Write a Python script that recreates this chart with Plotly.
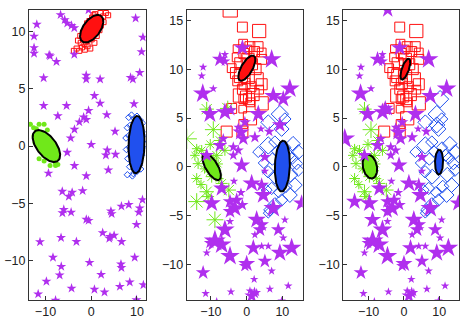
import numpy as np
import plotly.graph_objects as go

# ---------------- Panel 1 data ----------------
p1_star_x = [-6.7,-5.8,-5.25,-4.3,-3.7,-11.9,-12.5,-12.5,-12.5,-9.2,-9.0,-7.6,-3.7,-0.6,9.7,11.3,11.0,10.6,8.6,9.1,
             -10.4,-1.1,-1.1,1.94,0.7,1.94,-10.4,-5.4,-0.58,3.4,-7.3,-1.66,-1.08,-2.6,-3.67,-4.5,5.2,9.35,0.0,3.5,
             5.3,-5.25,3.2,
             -3.67,-9.35,-1.08,3.74,-6.33,-4.17,-4.9,-1.88,-6.0,-6.3,-4.4,-1.08,-0.58,4.3,4.47,6.6,8.2,11.2,10.6,10.4,
             9.9,2.5,4.1,5.0,3.95,6.63,-6.6,-3.24,-11.2,-8.36,-6.55,-0.37,6.5,6.6,9.5,2.16,-6.9,-9.8,-4.3,0.7,2.9,
             6.26,8.42,11.4,-11.6,-7.8,9.87]
p1_star_y = [11.44,11.0,10.7,10.5,10.3,10.6,9.57,8.57,8.07,7.93,7.85,7.36,7.99,11.87,11.15,9.48,8.22,6.4,5.97,5.83,
             5.94,6.17,5.83,5.83,4.39,3.73,3.52,3.52,3.09,2.72,2.63,2.52,2.31,2.09,1.45,0.7,1.28,3.67,0.13,-0.36,
             -0.73,-0.56,-0.79,
             -1.71,-2.37,-2.6,-2.09,-3.96,-4.04,-4.39,-3.9,-5.54,-5.83,-5.77,-6.4,-6.49,-5.68,-5.9,-5.25,-5.11,-4.68,-5.4,-5.77,
             -6.84,-7.56,-7.9,-7.79,-8.05,-8.33,-7.99,-8.33,-8.36,-9.71,-10.5,-10.15,-10.3,-10.6,-9.71,-11.2,-11.25,-11.8,-12.4,-12.5,-12.74,
             -12.25,-11.87,-12.1,-12.9,-13.45,-13.4]

p1_red_x = [-3.8,-3.2,-2.6,-2.0,-1.4,-0.8,-0.2,-2.9,-2.3,-1.7,-1.1,-0.5,0.1,0.7,-1.8,-1.2,-0.6,0.0,0.6,1.2,1.8,
            -0.9,-0.3,0.3,0.9,1.5,2.1,2.7,0.2,0.8,1.4,2.0,2.6,3.2,3.7,-2.4,-1.5,-0.4,0.5,1.1]
p1_red_y = [8.3,8.5,8.3,8.6,8.4,8.7,8.5,9.2,9.0,9.4,9.1,9.6,9.3,9.0,9.9,10.2,9.8,10.3,9.9,9.6,10.1,
            10.7,10.4,10.9,10.5,10.9,10.5,10.8,11.2,11.5,11.1,11.6,11.3,11.6,11.4,9.6,8.9,10.9,11.4,10.0]

p1_green_x = [-13.3,-12.6,-12.0,-11.4,-10.8,-10.3,-9.6,-12.5,-11.8,-11.1,-10.5,-9.9,-9.2,-8.6,
              -11.2,-10.6,-10.0,-9.4,-8.8,-8.2,-7.6,-10.4,-9.7,-9.1,-8.5,-7.9,-7.3,
              -11.5,-11.4,-10.3,-12.3,-9.0,-7.8,-8.4,-10.9]
p1_green_y = [1.9,1.6,1.5,1.9,1.2,1.9,1.4,0.9,1.0,0.6,0.8,0.5,0.7,0.3,
              0.1,-0.2,0.1,-0.3,0.0,-0.4,-0.7,-0.8,-0.6,-1.0,-1.2,-1.4,-1.6,
              0.65,-1.1,-1.3,0.3,-1.7,-1.7,-0.9,1.1]

p1_blue_x = [8.2,8.8,9.4,10.0,10.6,11.2,7.9,8.5,9.1,9.7,10.3,10.9,11.5,7.6,8.2,8.8,9.4,10.0,10.6,11.2,11.7,
             7.7,8.3,8.9,9.5,10.1,10.7,11.3,8.0,8.6,9.2,9.8,10.4,11.0,8.4,9.1,9.8,10.5,9.2,10.0,10.8,7.9,9.0]
p1_blue_y = [2.5,2.7,2.4,2.6,2.3,2.0,1.6,1.8,1.5,1.9,1.7,1.4,1.1,0.7,0.9,0.5,0.8,0.6,0.9,0.4,0.6,
             -0.3,-0.1,-0.4,0.0,-0.2,-0.5,-0.1,-1.1,-0.9,-1.3,-1.0,-1.2,-0.8,-1.8,-1.6,-1.9,-1.7,-2.4,-2.2,-2.0,-2.5,-2.6]

# ---------------- Panels 2 & 3 shared data ----------------
# labels: S star, R red square, G green asterisk, B blue diamond
pts_x = [-1.2,-6.1,-7.5,-6.1,-12.2,-12.6,-9.35,-12.3,-10.3,-6.1,-4.4,7.0,12.1,7.45,10.25,3.25,-0.5,-2.35,9.3,6.33,
         -1.6,-0.95,2.3,4.0,-3.75,-2.35,-3.75,-7.5,-6.55,5.1,-11.2,
         -1.4,5.1,1.4,4.2,4.65,-3.56,-1.6,-7.0,-9.8,-4.67,-2.8,-3.28,-4.67,-1.2,-4.67,-6.1,2.8,4.2,3.73,2.3,
         7.45,10.7,15.4,8.86,10.25,12.6,9.3,6.05,4.2,1.86,5.1,7.0,0.0,-0.5,-8.9,-7.0,-10.3,-4.67,-11.2,-12.2,
         -11.5,-4.4,-8.4,2.1,0.92,2.8,1.4,6.5,11.65,9.8,2.2,
         -4.6,-1.2,3.5,0.9,4.2,4.2,-4.2,2.8,4.2,-1.2,0.64,-0.95,4.2,-4.2,-1.1,0.92,-5.6,-1.2,-0.95,
         -2.8,-3.0,-2.5,-1.8,-1.6,-0.8,-0.6,0.2,0.4,0.3,1.2,1.5,2.2,2.5,1.8,-1.9,-2.7,3.2,3.5,-0.2,1.0,0.0,-1.0,
         -16.8,-11.2,-5.3,-9.35,-7.5,-14.0,-14.5,-12.6,-6.1,-8.4,-13.6,-14.0,-11.2,-14.0,-10.8,-5.0,-8.9,-7.0,-10.3,
         -11.5,-10.6,-9.2,-8.6,-9.8,-11.8,-7.8,-10.2,-12.8,-8.0,
         9.3,6.05,10.7,9.8,6.05,7.9,13.0,14.5,3.25,14.0,14.45,13.5,12.1,9.8,7.9,6.5,6.05,5.6,
         7.2,8.0,11.8,12.3,8.5,11.0,7.0,4.8,6.0,12.8,9.0,10.8]
pts_y = [12.17,11.5,11.0,10.8,10.2,9.3,8.0,7.5,5.4,5.6,5.8,11.0,8.0,7.26,6.93,5.4,4.56,4.05,4.29,3.61,
         3.55,2.87,3.04,3.88,2.03,1.69,1.18,2.19,2.87,1.01,1.18,
         0.16,-0.44,-1.69,-1.86,-2.88,-1.46,-2.64,-2.2,-3.72,-3.55,-3.39,-4.23,-4.56,-3.9,-5.58,-6.43,-5.41,-5.92,-6.43,-6.94,
         -4.23,-5.41,-3.72,-6.43,-7.27,-8.29,-8.79,-8.11,-8.11,-8.29,-9.64,-10.65,-9.91,-10.14,-7.6,-7.95,-7.78,-9.13,-8.79,-10.82,
         -12.95,-12.78,-13.76,-11.5,-12.68,-12.85,-13.2,-12.5,-12.17,-13.7,-12.9,
         16.06,14.3,13.9,12.3,11.7,11.0,10.1,8.96,8.45,7.94,6.93,6.93,6.5,5.98,5.91,4.97,3.61,3.61,4.39,
         11.2,9.6,8.8,10.6,9.3,11.6,8.5,12.0,11.0,9.2,8.2,10.5,11.8,10.0,7.4,7.3,12.1,12.3,7.9,7.2,6.6,10.5,12.6,
         2.87,5.91,5.98,3.81,2.7,1.86,1.18,1.69,1.69,1.18,0.33,-1.19,-2.54,-3.55,-3.04,-2.37,-5.41,-1.69,-0.51,
         1.0,0.6,0.9,-0.4,-1.0,-0.2,-1.2,2.3,-1.8,0.3,
         5.4,4.56,4.9,3.88,2.19,2.54,2.36,1.52,1.52,0.33,-0.34,-1.86,-2.88,-3.39,-3.9,-4.4,-4.73,-2.37,
         0.8,-1.0,1.2,-0.8,1.6,-2.0,-2.2,0.4,-0.5,0.9,-2.6,2.0]
pts_size = [14,7,13,9,7,7,7,16,15,15,10,16,16,15,14,15,10,8,13,9,
            14,12,10,7,9,9,9,12,9,10,12,
            14,7,15,12,15,7,8,14,15,12,12,15,12,10,7,16,15,12,12,7,
            16,7,14,12,7,16,15,7,7,14,12,7,14,10,18,16,10,16,7,12,
            7,7,7,7,7,7,12,7,7,7,10,
            13,9,12,9,8,9,8,12,10,9,10,8,12,9,7,12,10,10,8,
            8,10,9,10,12,9,10,8,11,12,9,10,9,10,11,12,7,9,8,10,8,8,8,
            17,12,13,14,10,8,8,9,9,10,9,9,12,14,10,12,14,10,9,
            8,9,8,9,10,8,8,9,8,8,
            14,12,10,12,14,10,12,12,9,10,10,12,12,10,12,10,8,9,
            10,12,10,12,9,10,10,9,10,10,9,9]
lab2 = list("S" * 82) + list("R" * 42) + list("G" * 29) + list("B" * 30)
lab3 = list(lab2)
lab3[14] = "B"   # star in panel 2, diamond in panel 3
lab3[18] = "B"
lab3[82] = "S"   # red square in panel 2, star in panel 3
lab3[124] = "S"  # asterisks in panel 2 become stars in panel 3
lab3[126] = "S"
lab3[137] = "S"
lab3[140] = "S"

# ---------------- Ellipses (centre, semi-axis vectors) ----------------
# order: red, green, blue
ell1 = dict(cx=[0.1, -9.8, 9.9], cy=[10.23, 0.0, 0.13], ax=[2.05, 2.48, 0.15], ay=[1.12, -1.3, 2.5],
            bx=[1.5, 1.7, 1.75], by=[-0.45, 0.5, 0.0])
ell2 = dict(cx=[0.05, -9.8, 10.0], cy=[10.1, 0.0, 0.08], ax=[1.96, 2.1, 0.2], ay=[1.26, -1.32, 2.6],
            bx=[1.35, 1.5, 2.1], by=[-0.3, 0.3, 0.0])
ell3 = dict(cx=[0.4, -9.66, 9.95], cy=[10.0, 0.03, 0.49], ax=[1.0, 0.8, 0.05], ay=[1.07, -1.2, 1.27],
            bx=[0.95, 1.9, 1.14], by=[-0.11, 0.2, 0.0])

PURPLE = "#B02FEE"
RED = "#FF1010"
GREEN = "#70E81A"
BLUE = "#2050EE"
CLUSTER_COLORS = [RED, GREEN, BLUE]
# plotly symbol size -> drawn width factors
SYM_SCALE = {"S": 0.92, "R": 1.1, "G": 1.0, "B": 0.95}

fig = go.Figure()

def add_ellipses(ell, xa, ya):
    t = np.linspace(0, 2 * np.pi, 120)
    for i in range(3):
        ex = ell["cx"][i] + ell["ax"][i] * np.cos(t) + ell["bx"][i] * np.sin(t)
        ey = ell["cy"][i] + ell["ay"][i] * np.cos(t) + ell["by"][i] * np.sin(t)
        fig.add_trace(go.Scatter(x=ex, y=ey, mode="lines", fill="toself", fillcolor=CLUSTER_COLORS[i],
                                 line=dict(color="black", width=2), xaxis=xa, yaxis=ya,
                                 showlegend=False, hoverinfo="skip"))

# Panel 1
fig.add_trace(go.Scatter(x=p1_red_x, y=p1_red_y, mode="markers", xaxis="x", yaxis="y",
                         marker=dict(symbol="square-open", size=5, color=RED, opacity=1, line=dict(width=1)),
                         showlegend=False))
fig.add_trace(go.Scatter(x=p1_green_x, y=p1_green_y, mode="markers", xaxis="x", yaxis="y",
                         marker=dict(symbol="circle", size=5, color=GREEN, opacity=1), showlegend=False))
fig.add_trace(go.Scatter(x=p1_blue_x, y=p1_blue_y, mode="markers", xaxis="x", yaxis="y",
                         marker=dict(symbol="diamond-open", size=5, color=BLUE, opacity=1, line=dict(width=1)),
                         showlegend=False))
add_ellipses(ell1, "x", "y")
fig.add_trace(go.Scatter(x=p1_star_x, y=p1_star_y, mode="markers", xaxis="x", yaxis="y",
                         marker=dict(symbol="star", size=7.5, color=PURPLE, opacity=1, line=dict(width=0)),
                         showlegend=False))

def add_panel(labels, ell, xa, ya):
    px = np.array(pts_x); py = np.array(pts_y); ps = np.array(pts_size, dtype=float); lb = np.array(labels)
    specs = [("R", "square-open", RED), ("G", "asterisk-open", GREEN), ("B", "diamond-open", BLUE)]
    for code, sym, col in specs:
        m = lb == code
        fig.add_trace(go.Scatter(x=px[m], y=py[m], mode="markers", xaxis=xa, yaxis=ya,
                                 marker=dict(symbol=sym, size=ps[m] * SYM_SCALE[code], color=col, opacity=1,
                                             line=dict(width=1, color=col)),
                                 showlegend=False))
    add_ellipses(ell, xa, ya)
    m = lb == "S"
    fig.add_trace(go.Scatter(x=px[m], y=py[m], mode="markers", xaxis=xa, yaxis=ya,
                             marker=dict(symbol="star", size=ps[m] * SYM_SCALE["S"], color=PURPLE, opacity=1,
                                         line=dict(width=0)),
                             showlegend=False))

add_panel(lab2, ell2, "x2", "y2")
add_panel(lab3, ell3, "x3", "y3")

FONT = dict(family="Liberation Sans, Arial, sans-serif", size=12.5, color="#222222")
ax_common = dict(showline=True, mirror=True, linecolor="#333333", linewidth=1, ticks="inside", ticklen=4,
                 tickcolor="#333333", showgrid=False, zeroline=False, tickfont=FONT)

fig.update_layout(
    width=471, height=319, margin=dict(l=0, r=0, t=0, b=0),
    paper_bgcolor="white", plot_bgcolor="white", font=FONT,
    xaxis=dict(domain=[0.0616, 0.3093], range=[-13.6, 11.9], tickvals=[-10, 0, 10], anchor="y", **ax_common),
    yaxis=dict(domain=[0.0502, 0.9687], range=[-13.43, 11.87], tickvals=[-10, -5, 0, 5, 10], anchor="x", **ax_common),
    xaxis2=dict(domain=[0.3964, 0.6427], range=[-16.8, 15.7], tickvals=[-10, 0, 10], anchor="y2", **ax_common),
    yaxis2=dict(domain=[0.0502, 0.9687], range=[-13.63, 16.06], tickvals=[-10, -5, 0, 5, 10, 15], anchor="x2", **ax_common),
    xaxis3=dict(domain=[0.7289, 0.9752], range=[-17.2, 15.7], tickvals=[-10, 0, 10], anchor="y3", **ax_common),
    yaxis3=dict(domain=[0.0502, 0.9687], range=[-13.63, 16.06], tickvals=[-10, -5, 0, 5, 10, 15], anchor="x3", **ax_common),
)

fig.write_html("out.html", config={"displayModeBar": False},
               post_script="document.body.style.margin='0px';")
